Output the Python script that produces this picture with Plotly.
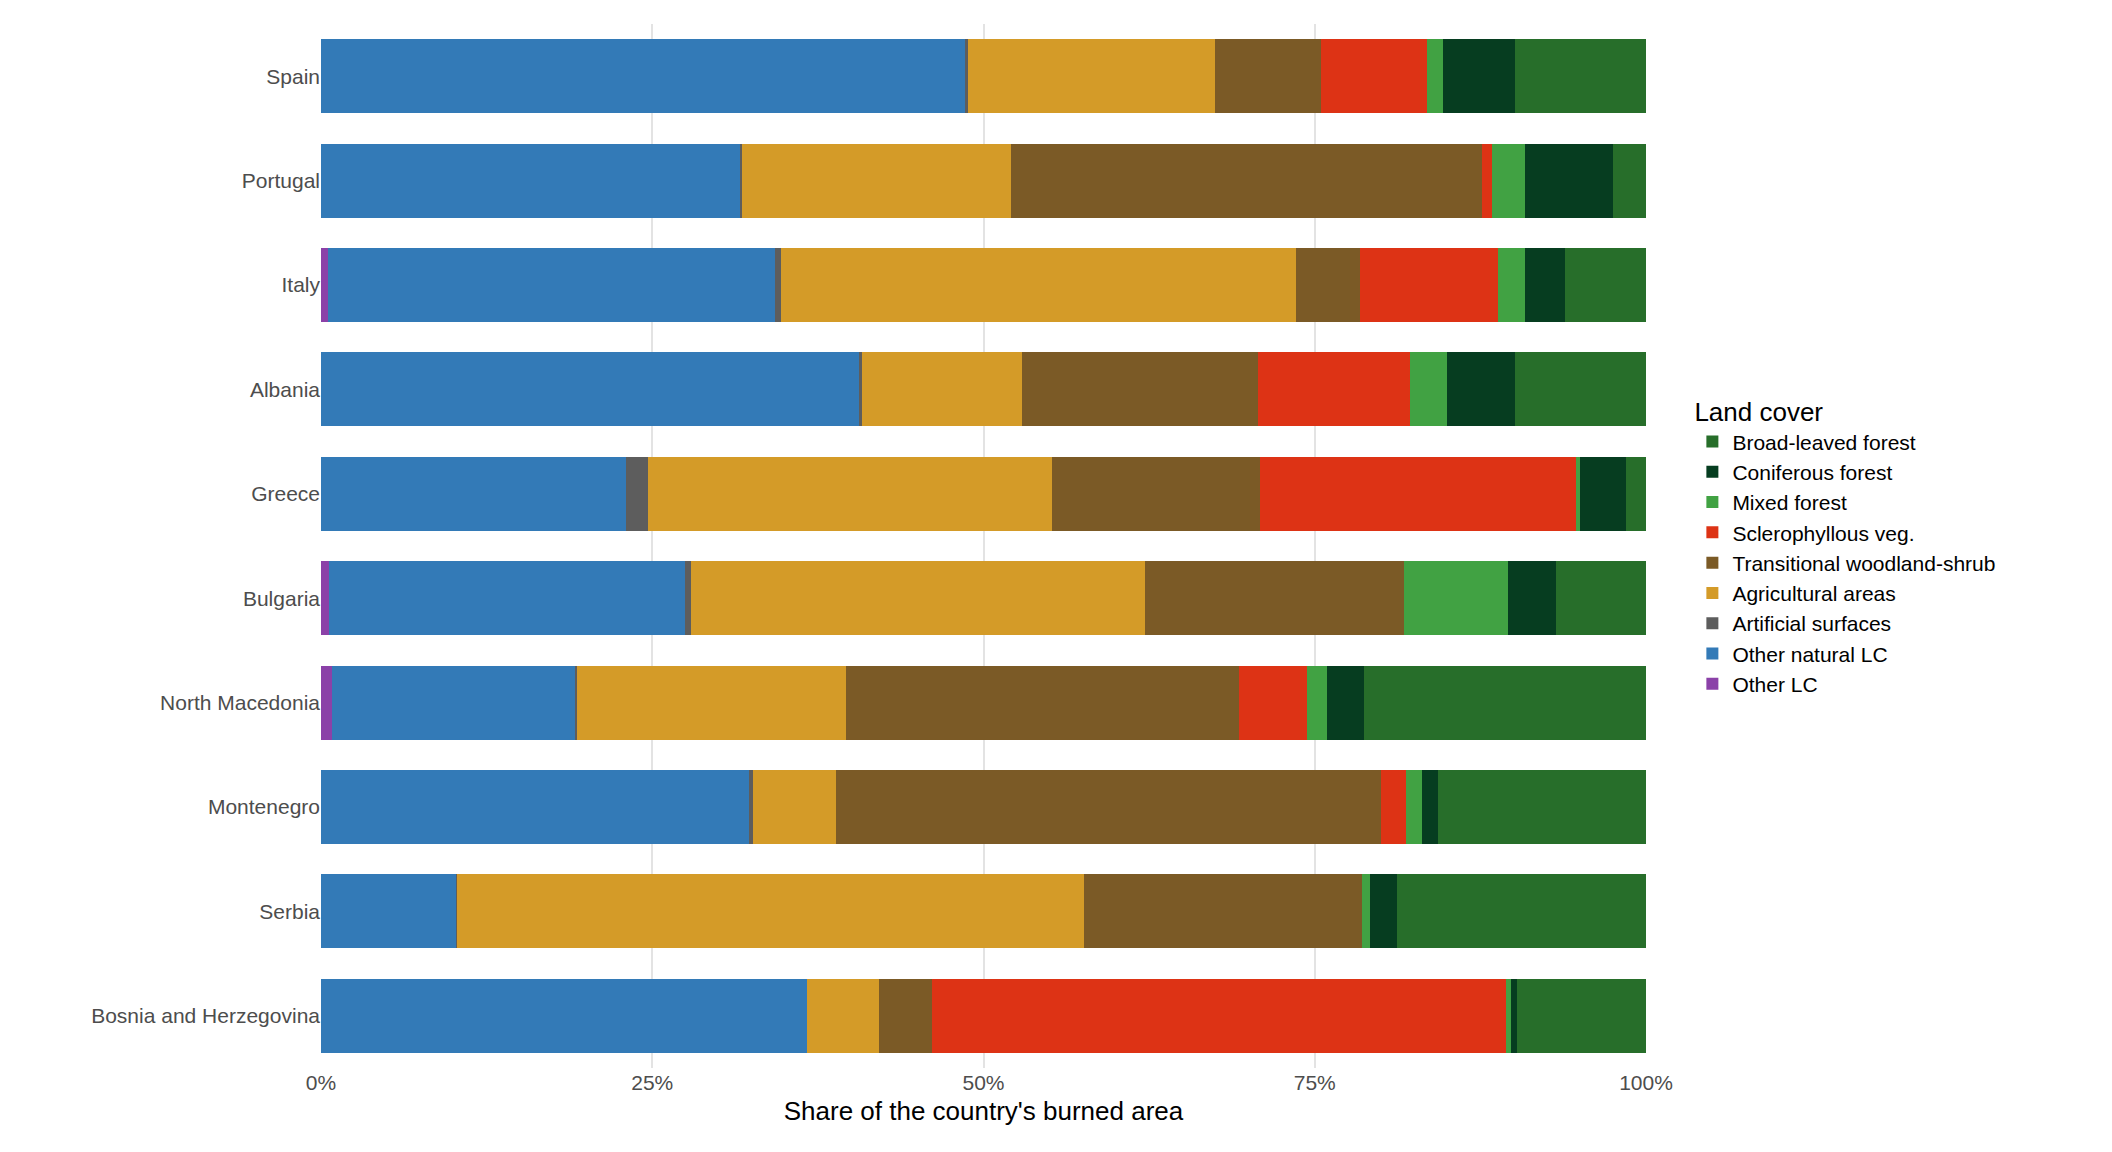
import plotly.graph_objects as go

countries = ["Spain","Portugal","Italy","Albania","Greece","Bulgaria","North Macedonia","Montenegro","Serbia","Bosnia and Herzegovina"]
other_lc      = [0.0, 0.0, 0.5, 0.0, 0.0, 0.6, 0.8, 0.0, 0.0, 0.0]
other_natural = [48.6,31.6,33.8,40.6,23.0,26.9,18.4,32.3,10.2,36.7]
artificial    = [0.2, 0.2, 0.4, 0.2, 1.7, 0.4, 0.1, 0.3, 0.1, 0.0]
agricultural  = [18.7,20.3,38.9,12.1,30.5,34.3,20.3,6.3,47.3,5.4]
transitional  = [8.0,35.5,4.8,17.8,15.7,19.5,29.7,41.1,21.0,4.0]
sclerophyllous= [8.0,0.8,10.4,11.5,23.8,0.0,5.1,1.9,0.0,43.3]
mixed         = [1.2,2.5,2.1,2.8,0.3,7.9,1.5,1.2,0.6,0.4]
coniferous    = [5.4,6.6,3.0,5.1,3.5,3.6,2.8,1.2,2.0,0.5]
broadleaved   = [9.9,2.5,6.1,9.9,1.5,6.8,21.3,15.7,18.8,9.7]

series = [
    ("Other LC", other_lc, "#8b41a8"),
    ("Other natural LC", other_natural, "#337ab7"),
    ("Artificial surfaces", artificial, "#5d5d5d"),
    ("Agricultural areas", agricultural, "#d49b28"),
    ("Transitional woodland-shrub", transitional, "#7b5a26"),
    ("Sclerophyllous veg.", sclerophyllous, "#dd3315"),
    ("Mixed forest", mixed, "#41a243"),
    ("Coniferous forest", coniferous, "#063d20"),
    ("Broad-leaved forest", broadleaved, "#276e2a"),
]

fig = go.Figure()
for name, vals, col in series:
    tot = [sum(s[1][i] for s in series) for i in range(len(countries))]
    fig.add_trace(go.Bar(y=countries, x=[v / t for v, t in zip(vals, tot)], name=name,
                         orientation="h", marker=dict(color=col, line=dict(width=0))))

fig.update_layout(
    barmode="stack", bargap=0.29, width=2112, height=1152,
    paper_bgcolor="white", plot_bgcolor="white",
    margin=dict(l=313, r=474, t=16, b=92),
    font=dict(family="Liberation Sans, Arial", color="#4d4d4d", size=17),
    legend=dict(title=dict(text="Land cover", font=dict(size=26, color="black")),
                traceorder="reversed", x=1.035, y=0.5, yanchor="middle",
                font=dict(size=21, color="black"), itemsizing="constant"),
)
fig.update_xaxes(range=[0, 1], tickformat=".0%", tickvals=[0,0.25,0.5,0.75,1],
                 showgrid=True, gridcolor="#e3e3e3", gridwidth=2, zeroline=False,
                 title=dict(text="Share of the country's burned area", font=dict(size=26, color="black"), standoff=8),
                 tickfont=dict(size=21))
fig.update_yaxes(autorange="reversed", showgrid=True, gridcolor="#e3e3e3", tickfont=dict(size=21), ticks="", ticklen=6)
fig.write_html("out.html")
